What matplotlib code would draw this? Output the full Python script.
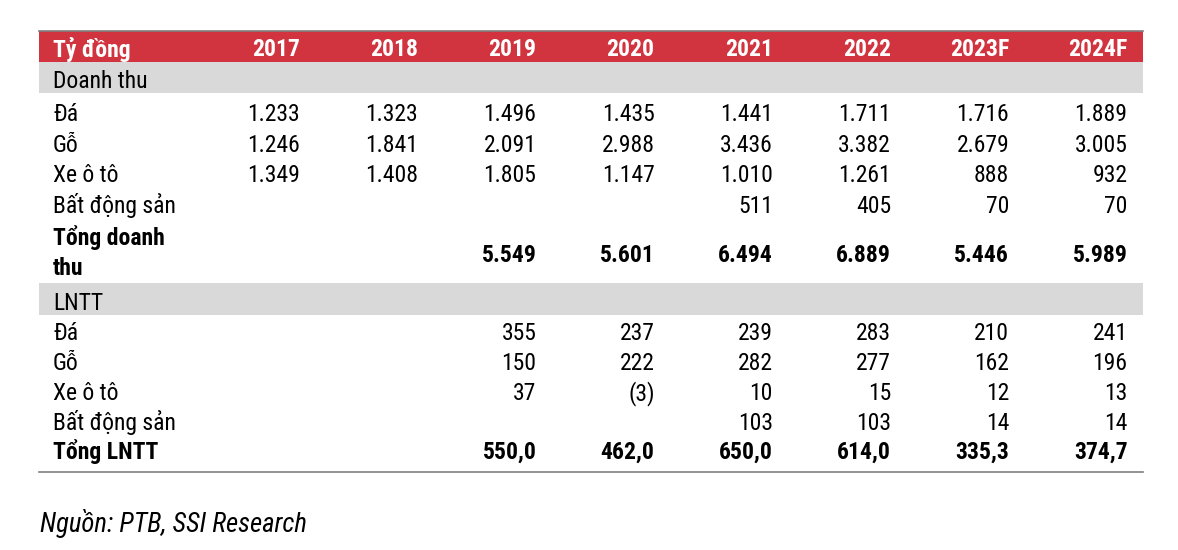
import matplotlib
matplotlib.use("Agg")
import matplotlib.pyplot as plt

# table values (ty dong), None = blank cell
years = ["2017", "2018", "2019", "2020", "2021", "2022", "2023F", "2024F"]

rev_labels = ["Đá", "Gỗ", "Xe ô tô", "Bất động sản"]
rev_da = [1233, 1323, 1496, 1435, 1441, 1711, 1716, 1889]
rev_go = [1246, 1841, 2091, 2988, 3436, 3382, 2679, 3005]
rev_xe = [1349, 1408, 1805, 1147, 1010, 1261, 888, 932]
rev_bds = [None, None, None, None, 511, 405, 70, 70]
rev_total = [None, None, 5549, 5601, 6494, 6889, 5446, 5989]

pbt_labels = ["Đá", "Gỗ", "Xe ô tô", "Bất động sản"]
pbt_da = [None, None, 355, 237, 239, 283, 210, 241]
pbt_go = [None, None, 150, 222, 282, 277, 162, 196]
pbt_xe = [None, None, 37, -3, 10, 15, 12, 13]
pbt_bds = [None, None, None, None, 103, 103, 14, 14]
pbt_total = [None, None, 550.0, 462.0, 650.0, 614.0, 335.3, 374.7]

source = "Nguồn: PTB, SSI Research"

plt.rcParams["font.family"] = ["Roboto Condensed", "DejaVu Sans"]

RED = "#d1343f"
GREY = "#d9d9d9"
fs = 17


def fmt_int(v):
    if v is None:
        return ""
    if v < 0:
        return "(%s)" % fmt_int(-v)
    return "{:,}".format(v).replace(",", ".")


def fmt_dec(v):
    if v is None:
        return ""
    return ("%.1f" % v).replace(".", ",")


W, H = 1178, 550
fig = plt.figure(figsize=(W / 100, H / 100), dpi=100)
ax = fig.add_axes([0, 0, 1, 1])
ax.set_xlim(0, W)
ax.set_ylim(H, 0)
ax.axis("off")

left, right = 39, 1143
label_x = 53
col_right = [300 + 118.2 * i for i in range(len(years))]

# bands
ax.add_patch(plt.Rectangle((left, 31), right - left, 31, color=RED, lw=0))
ax.plot([left, right], [30.5, 30.5], color="#7f7f7f", lw=1.2)
ax.add_patch(plt.Rectangle((left, 62), right - left, 31, color=GREY, lw=0))
ax.add_patch(plt.Rectangle((left, 283), right - left, 32, color=GREY, lw=0))
ax.plot([left, right], [471.5, 471.5], color="#7f7f7f", lw=1.2)

# header
ax.text(label_x, 56.5, "Tỷ đồng", color="white", fontsize=fs, fontweight="bold", va="baseline")
for x, y in zip(col_right, years):
    ax.text(x, 56.5, y, color="white", fontsize=fs, fontweight="bold", ha="right", va="baseline")

ax.text(label_x, 88.5, "Doanh thu", fontsize=fs, va="baseline")
rev_rows = [rev_da, rev_go, rev_xe, rev_bds]
for yb, lab, row in zip([121, 152, 182.5, 213], rev_labels, rev_rows):
    ax.text(label_x, yb, lab, fontsize=fs, va="baseline")
    for x, v in zip(col_right, row):
        ax.text(x, yb, fmt_int(v), fontsize=fs, ha="right", va="baseline")
ax.text(label_x, 245, "Tổng doanh", fontsize=fs, fontweight="bold", va="baseline")
ax.text(label_x, 275, "thu", fontsize=fs, fontweight="bold", va="baseline")
for x, v in zip(col_right, rev_total):
    ax.text(x, 262, fmt_int(v), fontsize=fs, fontweight="bold", ha="right", va="baseline")

ax.text(label_x, 310, "LNTT", fontsize=fs, va="baseline")
pbt_rows = [pbt_da, pbt_go, pbt_xe, pbt_bds]
for yb, lab, row in zip([339.5, 369.5, 400, 430], pbt_labels, pbt_rows):
    ax.text(label_x, yb, lab, fontsize=fs, va="baseline")
    for x, v in zip(col_right, row):
        ax.text(x, yb, fmt_int(v), fontsize=fs, ha="right", va="baseline")
ax.text(label_x, 459, "Tổng LNTT", fontsize=fs, fontweight="bold", va="baseline")
for x, v in zip(col_right, pbt_total):
    ax.text(x, 459, fmt_dec(v), fontsize=fs, fontweight="bold", ha="right", va="baseline")

ax.text(40, 531.5, source, fontsize=19.3, style="italic", va="baseline")

fig.savefig("out.png", dpi=100)
